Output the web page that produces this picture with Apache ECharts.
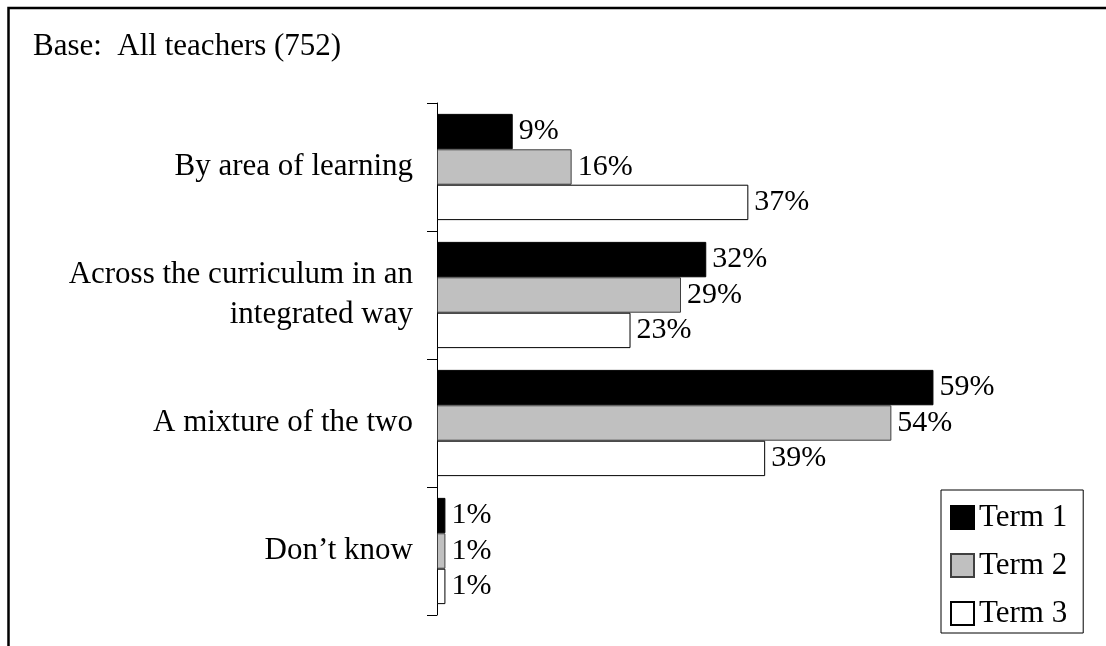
<!DOCTYPE html>
<html>
<head>
<meta charset="utf-8">
<script src="https://cdn.jsdelivr.net/npm/echarts@6/dist/echarts.min.js"></script>
<style>html,body{margin:0;padding:0;background:#fff}#c{width:1106px;height:646px}</style>
</head>
<body>
<div id="c"></div>
<script>
var categories = ['By area of learning', 'Across the curriculum in an\nintegrated way', 'A mixture of the two', 'Don\u2019t know'];
var seriesNames = ['Term 1', 'Term 2', 'Term 3'];
var term1 = [9, 32, 59, 1];
var term2 = [16, 29, 54, 1];
var term3 = [37, 23, 39, 1];
var titleText = 'Base:  All teachers (752)';

var FONT = "'Liberation Serif','Times New Roman',serif";
var styles = [
  {color: '#000000', borderColor: '#000000'},
  {color: '#c0c0c0', borderColor: '#404040'},
  {color: '#ffffff', borderColor: '#000000'}
];
var values = [term1, term2, term3];

var chart = echarts.init(document.getElementById('c'), null, {renderer: 'canvas'});
chart.setOption({
  animation: false,
  backgroundColor: '#ffffff',
  title: {
    text: titleText,
    left: 33, top: 31, padding: 0,
    textStyle: {fontFamily: FONT, fontSize: 31, fontWeight: 'normal', color: '#000'}
  },
  graphic: [{
    type: 'polyline',
    shape: {points: [[8.5, 646], [8.5, 8], [1106, 8]]},
    style: {stroke: '#000', lineWidth: 2.5, fill: null}
  }],
  legend: {
    orient: 'vertical',
    left: 941, top: 490, height: 400, width: 160,
    padding: [12, 16, 4, 9],
    itemWidth: 23, itemHeight: 23, itemGap: 17,
    borderColor: '#000', borderWidth: 1,
    icon: 'rect',
    textStyle: {fontFamily: FONT, fontSize: 31, color: '#000'},
    data: seriesNames
  },
  grid: {left: 437, top: 103, bottom: 31, right: 80, containLabel: false},
  xAxis: {
    type: 'value', min: 0, max: 70, show: false
  },
  yAxis: {
    type: 'category', inverse: true, data: categories,
    axisLine: {show: true, lineStyle: {color: '#000', width: 1}},
    axisTick: {show: true, length: 10, lineStyle: {color: '#000'}},
    axisLabel: {margin: 24, fontFamily: FONT, fontSize: 31, color: '#000', lineHeight: 40, align: 'right', padding: [0, 0, 8, 0]},
    splitLine: {show: false}
  },
  series: seriesNames.map(function (n, i) {
    return {
      name: n, type: 'bar', data: values[i],
      barGap: '0%', barCategoryGap: '17%',
      itemStyle: {color: styles[i].color, borderColor: styles[i].borderColor, borderWidth: 1},
      label: {
        show: true, position: 'right', distance: 6,
        formatter: '{c}%', fontFamily: FONT, fontSize: 30, color: '#000'
      }
    };
  })
});
</script>
</body>
</html>
